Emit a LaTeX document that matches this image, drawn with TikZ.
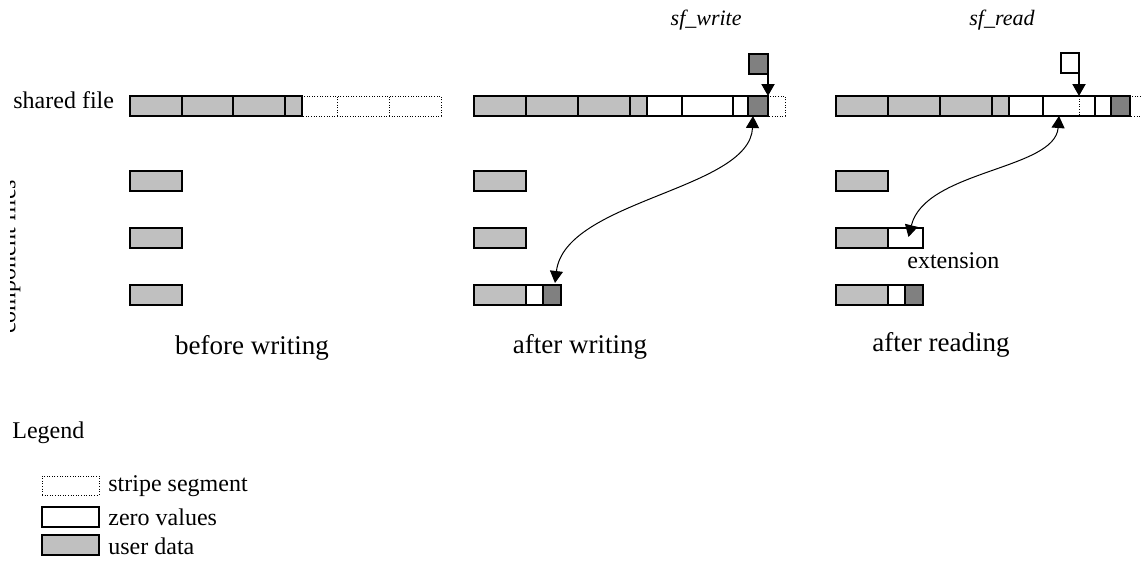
\documentclass[tikz,border=0pt]{standalone}
\usepackage{fontspec}
\setmainfont{Liberation Serif}
\usetikzlibrary{arrows.meta,calc}
\definecolor{udata}{RGB}{192,192,192}
\definecolor{wdata}{RGB}{128,128,128}
\tikzset{
  segbase/.style={inner sep=0pt, outer sep=0pt, anchor=north west},
  user/.style={segbase, draw=black, line width=1pt, fill=udata},
  zero/.style={segbase, draw=black, line width=1pt, fill=white},
  written/.style={segbase, draw=black, line width=1pt, fill=wdata},
  stripe/.style={segbase, draw=black, line width=0.5pt, dash pattern=on 0.5pt off 0.8pt},
  dotline/.style={draw=black, line width=0.5pt, dash pattern=on 0.5pt off 0.8pt},
  lbl/.style={font=\fontsize{12}{14}\selectfont, inner sep=0pt},
  title/.style={font=\fontsize{13.5}{16}\selectfont, inner sep=0pt},
  sflbl/.style={font=\fontsize{11}{13}\selectfont\itshape, inner sep=0pt},
  bigarrow/.style={line width=1pt, -{Triangle[length=6pt,width=6.5pt]}},
  curvearrow/.style={line width=0.5pt, {Triangle[length=6pt,width=6.5pt]}-{Triangle[length=6pt,width=6.5pt]}}
}
\newcommand\segbox[6]{\node[#6, minimum width={0.5pt*(#3-#2)}, minimum height={0.5pt*(#5-#4)}] (#1) at (#2,#4) {};}
\begin{document}
\begin{tikzpicture}[x=0.5pt,y=-0.5pt]
\useasboundingbox (0,0) rectangle (1141,569);

% ---------- panel 1: before writing ----------
\node[lbl, anchor=base west] (sharedlbl) at (13,108) {shared file};
\segbox{a1s4}{285}{337}{96}{116}{stripe}
\segbox{a1s5}{337}{389}{96}{116}{stripe}
\segbox{a1s6}{389}{441}{96}{116}{stripe}
\segbox{a1u1}{130}{182}{96}{116}{user}
\segbox{a1u2}{182}{233}{96}{116}{user}
\segbox{a1u3}{233}{285}{96}{116}{user}
\segbox{a1u4}{285}{302}{96}{116}{user}

\segbox{c11}{130}{182}{171}{191}{user}
\segbox{c12}{130}{182}{228}{248}{user}
\segbox{c13}{130}{182}{285}{305}{user}

\begin{scope}
\clip (10,160) rectangle (40,345);
\node[lbl, rotate=90, anchor=base] (complbl) at (15.5,257) {component files};
\end{scope}
\node[title] (t1) at (252,348) {before writing};

% ---------- panel 2: after writing ----------
\segbox{b1s7}{733}{785}{96}{116}{stripe}
\segbox{b1u1}{474}{526}{96}{116}{user}
\segbox{b1u2}{526}{578}{96}{116}{user}
\segbox{b1u3}{578}{630}{96}{116}{user}
\segbox{b1u4}{630}{647}{96}{116}{user}
\segbox{b1z1}{647}{682}{96}{116}{zero}
\segbox{b1z2}{682}{733}{96}{116}{zero}
\segbox{b1z3}{733}{748}{96}{116}{zero}
\segbox{b1w}{748}{768}{96}{116}{written}

\segbox{wbox}{749}{768}{54}{74}{written}
\node[sflbl, anchor=base east] (sfw) at (742,25) {sf\_write};
\draw[bigarrow] (wbox.south east) -- (wbox.south east |- b1w.north);

\segbox{c21}{474}{526}{171}{191}{user}
\segbox{c22}{474}{526}{228}{248}{user}
\segbox{c23u}{474}{526}{285}{305}{user}
\segbox{c23z}{526}{543}{285}{305}{zero}
\segbox{c23w}{543}{561}{285}{305}{written}

\draw[curvearrow] ($(b1w.south west)+(5,0)$) .. controls (750,190) and (565,200) .. ($(c23w.north)+(3,-2)$);
\node[title] (t2) at (580,347) {after writing};

% ---------- panel 3: after reading ----------
\segbox{r1s7}{1095}{1147}{96}{116}{stripe}
\segbox{r1u1}{836}{888}{96}{116}{user}
\segbox{r1u2}{888}{940}{96}{116}{user}
\segbox{r1u3}{940}{992}{96}{116}{user}
\segbox{r1u4}{992}{1009}{96}{116}{user}
\segbox{r1z1}{1009}{1043}{96}{116}{zero}
\segbox{r1z2}{1043}{1095}{96}{116}{zero}
\segbox{r1z3}{1095}{1111}{96}{116}{zero}
\segbox{r1w}{1111}{1130}{96}{116}{written}

\segbox{rbox}{1061}{1079}{53}{73}{zero}
\node[sflbl, anchor=base east] (sfr) at (1035,25) {sf\_read};
\draw[bigarrow] (rbox.south east) -- (rbox.south east |- r1z2.north);
\draw[dotline] (rbox.south east |- r1z2.north) -- (rbox.south east |- r1z2.south);

\segbox{c31}{836}{888}{171}{191}{user}
\segbox{c32u}{836}{888}{228}{248}{user}
\segbox{c32z}{888}{923}{228}{248}{zero}
\segbox{c33u}{836}{888}{285}{305}{user}
\segbox{c33z}{888}{905}{285}{305}{zero}
\segbox{c33w}{905}{923}{285}{305}{written}

\node[lbl, anchor=west] (ext) at (907,261) {extension};
\draw[curvearrow] ($(r1z2.south west)+(16,0)$) .. controls (1055,170) and (925,170) .. ($(c32z.center)+(3,-1)$);
\node[title] (t3) at (941,345) {after reading};

% ---------- legend ----------
\node[lbl, anchor=west] (leg) at (12,433) {Legend};
\segbox{lg1}{42}{99}{476}{495}{stripe}
\segbox{lg2}{42}{99}{507}{527}{zero}
\segbox{lg3}{42}{99}{535}{555}{user}
\node[lbl, anchor=west] (lg1t) at (108,486) {stripe segment};
\node[lbl, anchor=west] (lg2t) at (108,517) {zero values};
\node[lbl, anchor=west] (lg3t) at (108,546) {user data};
\end{tikzpicture}
\end{document}
